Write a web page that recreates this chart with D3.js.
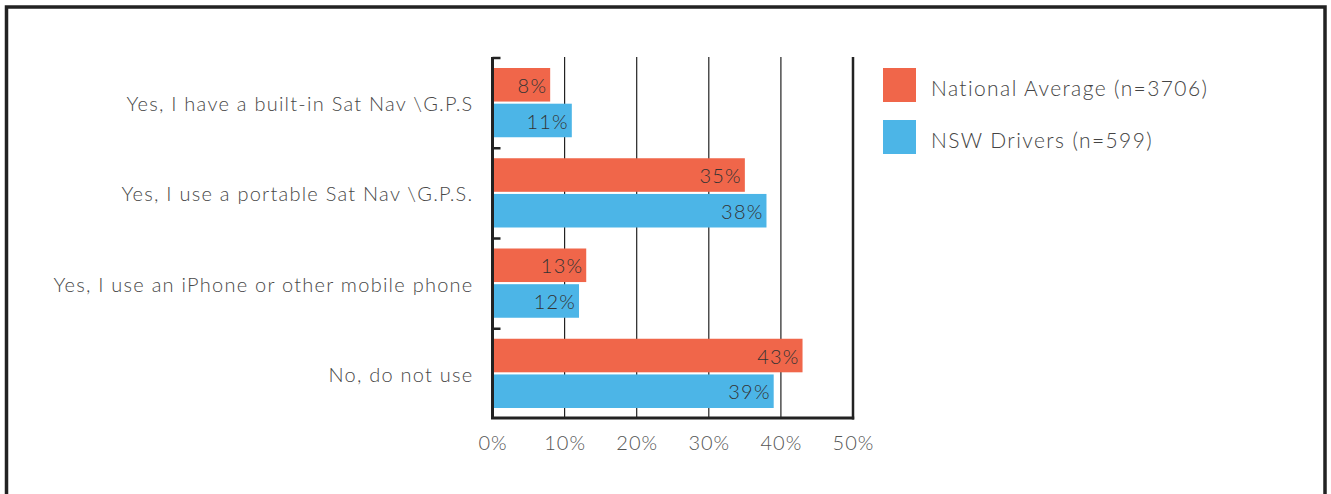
<!DOCTYPE html>
<html><head><meta charset="utf-8">
<script src="https://cdn.jsdelivr.net/npm/d3@7"></script>
<style>body{margin:0;background:#fff}svg{display:block}text{font-family:"Lato","Open Sans",sans-serif;font-weight:300}</style>
</head><body><svg id="c" width="1331" height="494"></svg>
<script>
const categories=["Yes, I have a built-in Sat Nav \\G.P.S","Yes, I use a portable Sat Nav \\G.P.S.","Yes, I use an iPhone or other mobile phone","No, do not use"];
const seriesNames=["National Average (n=3706)","NSW Drivers (n=599)"];
const national=[8,35,13,43];
const nsw=[11,38,12,39];
const xTicks=[0,10,20,30,40,50];
const colors=["#F0664A","#4CB5E7"];
const FONT='"Lato","Open Sans",sans-serif';

const svg=d3.select("#c");
svg.append("rect").attr("x",6.5).attr("y",7).attr("width",1318.5).attr("height",600).attr("fill","none").attr("stroke","#222").attr("stroke-width",3.5);

const L=492.5,R=853,T=57,B=418;
const x=d3.scaleLinear().domain([0,50]).range([L,R]);
const y=d3.scaleBand().domain(categories).range([T,B]);
const sub=d3.scaleBand().domain([0,1]).range([11,y.bandwidth()-10]).paddingInner(0.06);

svg.append("g").selectAll("line").data(xTicks.slice(1,-1)).join("line")
 .attr("x1",d=>x(d)).attr("x2",d=>x(d)).attr("y1",T).attr("y2",B)
 .attr("stroke","#222").attr("stroke-width",1.2);

const data=categories.map((c,i)=>({c,v:[national[i],nsw[i]]}));
const g=svg.append("g").selectAll("g").data(data).join("g").attr("transform",d=>`translate(0,${y(d.c)})`);
g.selectAll("rect").data(d=>d.v).join("rect")
 .attr("x",L).attr("y",(d,i)=>sub(i)).attr("width",d=>x(d)-L).attr("height",sub.bandwidth())
 .attr("fill",(d,i)=>colors[i]);
g.selectAll("text.v").data(d=>d.v).join("text").attr("class","v")
 .attr("x",d=>x(d)-3).attr("y",(d,i)=>sub(i)+sub.bandwidth()/2+1).attr("dy","0.36em")
 .attr("text-anchor","end").attr("font-size",20).attr("letter-spacing","1.2px").attr("fill","#333").text(d=>d+"%");

svg.append("line").attr("x1",R).attr("x2",R).attr("y1",T).attr("y2",B+1.5).attr("stroke","#222").attr("stroke-width",2.5);
const yAx=svg.append("g").attr("transform",`translate(${L},0)`)
 .call(d3.axisLeft(y).tickSize(0).tickPadding(19));
yAx.select(".domain").remove();
yAx.selectAll("text").attr("font-size",20).attr("letter-spacing","1.25px").attr("fill","#484848").attr("dy","0.45em").style("font-family",FONT);
svg.append("line").attr("x1",L).attr("x2",L).attr("y1",T).attr("y2",B).attr("stroke","#222").attr("stroke-width",3);
svg.append("g").selectAll("line").data(categories).join("line")
 .attr("x1",L).attr("x2",L+8).attr("y1",d=>y(d)+1).attr("y2",d=>y(d)+1).attr("stroke","#222").attr("stroke-width",2.5);
svg.append("line").attr("x1",L-1.5).attr("x2",R+1.2).attr("y1",B).attr("y2",B).attr("stroke","#222").attr("stroke-width",3);

const xAx=svg.append("g").attr("transform",`translate(0,${B})`)
 .call(d3.axisBottom(x).tickValues(xTicks).tickFormat(d=>d+"%").tickSize(0).tickPadding(18));
xAx.select(".domain").remove();
xAx.selectAll("text").attr("font-size",20).attr("letter-spacing","1px").attr("fill","#555").style("font-family",FONT);

const lg=svg.append("g").selectAll("g").data(seriesNames).join("g").attr("transform",(d,i)=>`translate(883,${68+i*52})`);
lg.append("rect").attr("width",33).attr("height",34).attr("fill",(d,i)=>colors[i]);
lg.append("text").attr("x",48).attr("y",20).attr("dy","0.36em").attr("font-size",21).attr("letter-spacing","1.4px").attr("fill","#444").text(d=>d);
</script></body></html>
